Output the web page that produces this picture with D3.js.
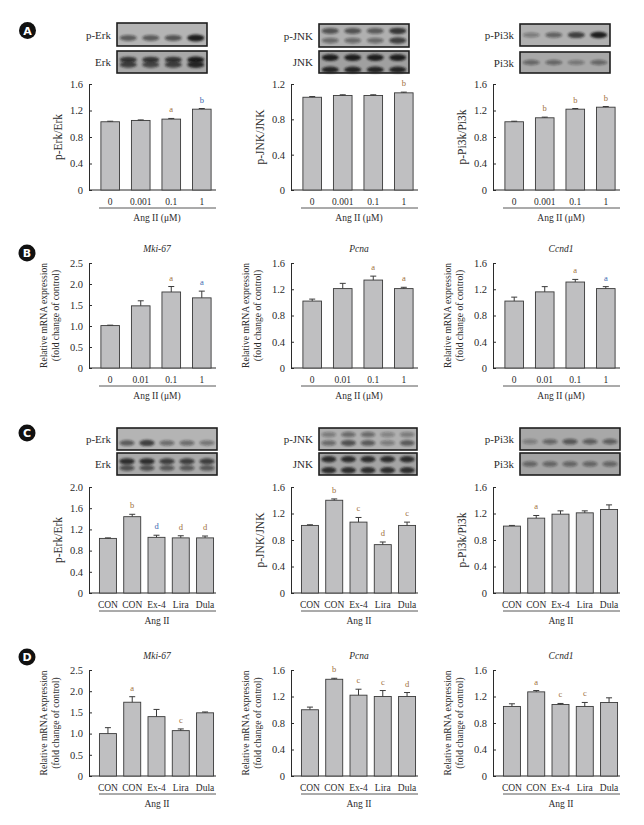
<!DOCTYPE html>
<html><head><meta charset="utf-8">
<script src="https://cdn.jsdelivr.net/npm/d3@7"></script>
<style>body{margin:0;background:#fff} svg{display:block}</style>
</head><body>
<svg id="c" width="644" height="825"></svg>
<script>
// ---------- data ----------
const doseA = ["0","0.001","0.1","1"];
const doseB = ["0","0.01","0.1","1"];
const treat = ["CON","CON","Ex-4","Lira","Dula"];

const aErkVal = [1.03,1.05,1.07,1.22],  aErkErr = [0.008,0.008,0.01,0.01],  aErkSig = ["","","a","b"];
const aJnkVal = [1.05,1.07,1.07,1.10],  aJnkErr = [0.008,0.008,0.008,0.008], aJnkSig = ["","","","b"];
const aPiVal  = [1.03,1.09,1.22,1.25],  aPiErr  = [0.008,0.01,0.01,0.01],   aPiSig  = ["","b","b","b"];

const bMkiVal = [1.01,1.48,1.81,1.67],  bMkiErr = [0.01,0.12,0.13,0.16],   bMkiSig = ["","","a","a"];
const bPcnaVal= [1.02,1.21,1.34,1.21],  bPcnaErr= [0.03,0.08,0.06,0.02],   bPcnaSig= ["","","a","a"];
const bCcndVal= [1.02,1.16,1.31,1.21],  bCcndErr= [0.06,0.08,0.04,0.03],   bCcndSig= ["","","a","a"];

const cErkVal = [1.03,1.44,1.05,1.04,1.04], cErkErr = [0.01,0.045,0.04,0.04,0.035], cErkSig = ["","b","d","d","d"];
const cJnkVal = [1.02,1.40,1.07,0.73,1.02], cJnkErr = [0.01,0.02,0.07,0.04,0.05],   cJnkSig = ["","b","c","d","c"];
const cPiVal  = [1.01,1.13,1.19,1.21,1.26], cPiErr  = [0.01,0.04,0.05,0.03,0.07],   cPiSig  = ["","a","","",""];

const dMkiVal = [1.0,1.74,1.40,1.07,1.49],  dMkiErr = [0.14,0.13,0.17,0.04,0.02],   dMkiSig = ["","a","","c",""];
const dPcnaVal= [1.0,1.46,1.22,1.20,1.20],  dPcnaErr= [0.04,0.015,0.09,0.09,0.06],  dPcnaSig= ["","b","c","c","d"];
const dCcndVal= [1.05,1.27,1.08,1.05,1.11], dCcndErr= [0.04,0.02,0.015,0.06,0.07],  dCcndSig= ["","a","c","c",""];

const ticks16 = [0,0.4,0.8,1.2,1.6];
const ticks12 = [0,0.4,0.8,1.2];
const ticks20 = [0,0.4,0.8,1.2,1.6,2.0];
const ticks25 = [0,0.5,1.0,1.5,2.0,2.5];

// blot band intensities (lane-wise)
const blotA1top = [[0.55,0.55,0.6,0.95]],           blotA1bot = [[0.8,0.8,0.8,0.95],[0.75,0.7,0.75,0.9]];
const blotA2top = [[0.6,0.6,0.55,0.8],[0.45,0.45,0.45,0.75]], blotA2bot = [[0.95,0.95,0.95,0.95],[0.9,0.9,0.9,0.9]];
const blotA3top = [[0.35,0.5,0.75,0.95]],           blotA3bot = [[0.45,0.45,0.35,0.45]];
const blotC1top = [[0.55,0.75,0.45,0.45,0.4]],      blotC1bot = [[0.85,0.85,0.75,0.75,0.75],[0.6,0.6,0.55,0.55,0.55]];
const blotC2top = [[0.35,0.45,0.45,0.3,0.35],[0.45,0.65,0.55,0.35,0.55]], blotC2bot = [[0.85,0.85,0.85,0.85,0.85],[0.85,0.85,0.85,0.85,0.85]];
const blotC3top = [[0.3,0.45,0.55,0.5,0.5]],        blotC3bot = [[0.45,0.45,0.45,0.45,0.45]];

// ---------- drawing ----------
const svg = d3.select("#c");
const serif = "'Liberation Serif','Times New Roman',serif";
const ink = "#2b2b2b";
const cols = [89, 291, 493];
const sigCol = {a:"#9a6a3a", b:"#9a6a3a", c:"#9a6a3a", d:"#9a6a3a"};

const defs = svg.append("defs");
defs.append("filter").attr("id","blur").attr("x","-50%").attr("y","-100%").attr("width","200%").attr("height","300%")
  .append("feGaussianBlur").attr("stdDeviation",1.1);

function panel(o){
  const g = svg.append("g");
  const n = o.vals.length;
  const x = d3.scaleBand().domain(d3.range(n))
    .range(n===4?[o.ax,o.ax+134]:[o.ax,o.ax+135])
    .paddingInner(n===4?0.39:0.3).paddingOuter(n===4?0.39:0.43);
  const y = d3.scaleLinear().domain([0,o.max]).range([o.y0,o.y1]);
  const ya = g.append("g").attr("transform",`translate(${o.ax},0)`)
    .call(d3.axisLeft(y).tickValues(o.ticks).tickFormat(d=>d===0?"0":d3.format(".1f")(d))
      .tickSizeInner(-3).tickSizeOuter(0).tickPadding(6));
  ya.select(".domain").attr("stroke",ink);
  ya.selectAll(".tick line").attr("stroke",ink);
  ya.selectAll("text").attr("font-family",serif).attr("font-size",10.5).attr("fill",ink);
  // baseline
  g.append("line").attr("x1",o.ax).attr("x2",o.ax+127).attr("y1",o.y0).attr("y2",o.y0).attr("stroke",ink);
  // bars
  g.selectAll("rect.bar").data(o.vals).join("rect").attr("class","bar")
    .attr("x",(d,i)=>x(i)).attr("width",x.bandwidth())
    .attr("y",d=>y(d)).attr("height",d=>o.y0-y(d))
    .attr("fill","#bfbfc1").attr("stroke","#3a3a3a").attr("stroke-width",0.9);
  // error bars
  o.errs.forEach((e,i)=>{
    const cx = x(i)+x.bandwidth()/2, yt = y(o.vals[i]+e);
    g.append("line").attr("x1",cx).attr("x2",cx).attr("y1",y(o.vals[i])).attr("y2",yt).attr("stroke","#3a3a3a");
    g.append("line").attr("x1",cx-3).attr("x2",cx+3).attr("y1",yt).attr("y2",yt).attr("stroke","#3a3a3a");
    if(o.sigs[i]) g.append("text").attr("x",cx).attr("y",yt-6).attr("text-anchor","middle")
      .attr("font-family",serif).attr("font-size",8.5).attr("fill",(o.sigc&&o.sigc[i])||"#7a5a3a").text(o.sigs[i]);
  });
  // x labels
  g.selectAll("text.xl").data(o.cats).join("text").attr("class","xl")
    .attr("x",(d,i)=>x(i)+x.bandwidth()/2).attr("y",o.y0+14.5).attr("text-anchor","middle")
    .attr("font-family",serif).attr("font-size",9.5).attr("fill",ink).text(d=>d);
  g.append("line").attr("x1",o.ax+10).attr("x2",o.ax+127).attr("y1",o.y0+18).attr("y2",o.y0+18).attr("stroke",ink).attr("stroke-width",0.8);
  g.append("text").attr("x",o.ax+68).attr("y",o.y0+30.5).attr("text-anchor","middle")
    .attr("font-family",serif).attr("font-size",9.5).attr("fill",ink).text(o.xt);
  // y label
  const mid = (o.y0+o.y1)/2;
  if(o.yl.length===1){
    g.append("text").attr("transform",`translate(${o.ax-31},${mid}) rotate(-90)`).attr("text-anchor","middle")
      .attr("dominant-baseline","central").attr("font-family",serif).attr("font-size",11.5).attr("fill",ink).text(o.yl[0]);
  } else {
    o.yl.forEach((t,k)=>g.append("text").attr("transform",`translate(${o.ax-46+k*12},${mid}) rotate(-90)`).attr("text-anchor","middle")
      .attr("dominant-baseline","central").attr("font-family",serif).attr("font-size",9.6).attr("fill",ink).text(t));
  }
  if(o.title) g.append("text").attr("x",o.ax+68).attr("y",o.y1-14).attr("text-anchor","middle")
    .attr("dominant-baseline","central").attr("font-family",serif).attr("font-style","italic").attr("font-size",9.5).attr("fill",ink).text(o.title);
}

function blot(bx,by,w,h,bands,pos,label,bg){
  const n = bands[0].length;
  const g = svg.append("g");
  g.append("rect").attr("x",bx).attr("y",by).attr("width",w).attr("height",h).attr("fill",bg);
  const lw = w/n;
  bands.forEach((row,k)=>{
    row.forEach((v,i)=>{
      g.append("ellipse").attr("cx",bx+lw*(i+0.5)).attr("cy",by+h*pos[k]).attr("rx",lw*0.38).attr("ry",h*0.1+v*1.2)
        .attr("fill",`rgba(25,25,25,${v})`).attr("filter","url(#blur)");
    });
  });
  g.append("rect").attr("x",bx).attr("y",by).attr("width",w).attr("height",h).attr("fill","none").attr("stroke","#1e1e1e").attr("stroke-width",1.6);
  g.append("text").attr("x",bx-6).attr("y",by+h/2).attr("text-anchor","end").attr("dominant-baseline","central")
    .attr("font-family",serif).attr("font-size",11).attr("fill",ink).text(label);
}

function badge(cx,cy,t){
  svg.append("circle").attr("cx",cx).attr("cy",cy).attr("r",8.5).attr("fill","#111");
  svg.append("text").attr("x",cx).attr("y",cy+0.5).attr("text-anchor","middle").attr("dominant-baseline","central")
    .attr("font-family","'DejaVu Sans',sans-serif").attr("font-weight","bold").attr("font-size",11).attr("fill","#fff").text(t);
}

const brown="#a0703c", blue="#3a6ab0";
// Row A
panel({ax:cols[0],y0:190,y1:84,max:1.6,ticks:ticks16,cats:doseA,vals:aErkVal,errs:aErkErr,sigs:aErkSig,sigc:["","",brown,blue],yl:["p-Erk/Erk"],xt:"Ang II (μM)"});
panel({ax:cols[1],y0:190,y1:84,max:1.2,ticks:ticks12,cats:doseA,vals:aJnkVal,errs:aJnkErr,sigs:aJnkSig,sigc:["","","",brown],yl:["p-JNK/JNK"],xt:"Ang II (μM)"});
panel({ax:cols[2],y0:190,y1:84,max:1.6,ticks:ticks16,cats:doseA,vals:aPiVal,errs:aPiErr,sigs:aPiSig,sigc:["",brown,brown,brown],yl:["p-Pi3k/Pi3k"],xt:"Ang II (μM)"});
// Row B
const rel = ["Relative mRNA expression","(fold change of control)"];
panel({ax:cols[0],y0:368,y1:263,max:2.5,ticks:ticks25,cats:doseB,vals:bMkiVal,errs:bMkiErr,sigs:bMkiSig,sigc:["","",brown,blue],yl:rel,xt:"Ang II (μM)",title:"Mki-67"});
panel({ax:cols[1],y0:368,y1:263,max:1.6,ticks:ticks16,cats:doseB,vals:bPcnaVal,errs:bPcnaErr,sigs:bPcnaSig,sigc:["","",brown,brown],yl:rel,xt:"Ang II (μM)",title:"Pcna"});
panel({ax:cols[2],y0:368,y1:263,max:1.6,ticks:ticks16,cats:doseB,vals:bCcndVal,errs:bCcndErr,sigs:bCcndSig,sigc:["","",brown,blue],yl:rel,xt:"Ang II (μM)",title:"Ccnd1"});
// Row C
panel({ax:cols[0],y0:593,y1:487,max:2.0,ticks:ticks20,cats:treat,vals:cErkVal,errs:cErkErr,sigs:cErkSig,sigc:["",brown,blue,brown,brown],yl:["p-Erk/Erk"],xt:"Ang II"});
panel({ax:cols[1],y0:593,y1:487,max:1.6,ticks:ticks16,cats:treat,vals:cJnkVal,errs:cJnkErr,sigs:cJnkSig,sigc:["",brown,brown,brown,brown],yl:["p-JNK/JNK"],xt:"Ang II"});
panel({ax:cols[2],y0:593,y1:487,max:1.6,ticks:ticks16,cats:treat,vals:cPiVal,errs:cPiErr,sigs:cPiSig,sigc:["",brown,"","",""],yl:["p-Pi3k/Pi3k"],xt:"Ang II"});
// Row D
panel({ax:cols[0],y0:776,y1:670,max:2.5,ticks:ticks25,cats:treat,vals:dMkiVal,errs:dMkiErr,sigs:dMkiSig,sigc:["",brown,"",brown,""],yl:rel,xt:"Ang II",title:"Mki-67"});
panel({ax:cols[1],y0:776,y1:670,max:1.6,ticks:ticks16,cats:treat,vals:dPcnaVal,errs:dPcnaErr,sigs:dPcnaSig,sigc:["",brown,brown,brown,brown],yl:rel,xt:"Ang II",title:"Pcna"});
panel({ax:cols[2],y0:776,y1:670,max:1.6,ticks:ticks16,cats:treat,vals:dCcndVal,errs:dCcndErr,sigs:dCcndSig,sigc:["",brown,brown,brown,""],yl:rel,xt:"Ang II",title:"Ccnd1"});

// blots
blot(117,23,90,23,blotA1top,[0.65],"p-Erk","#b4b4b4");
blot(117,51,90,22,blotA1bot,[0.4,0.62],"Erk","#a8a8a8");
blot(319,24,90,23,blotA2top,[0.3,0.72],"p-JNK","#b0b0b0");
blot(319,51,90,22,blotA2bot,[0.3,0.85],"JNK","#a0a0a0");
blot(520,24,90,22,blotA3top,[0.5],"p-Pi3k","#b0b0b0");
blot(520,52,90,21,blotA3bot,[0.5],"Pi3k","#a8a8a8");
blot(117,428,100,22,blotC1top,[0.68],"p-Erk","#b4b4b4");
blot(117,453,100,22,blotC1bot,[0.38,0.68],"Erk","#aaaaaa");
blot(319,428,98,22,blotC2top,[0.3,0.68],"p-JNK","#b0b0b0");
blot(319,453,98,22,blotC2bot,[0.28,0.78],"JNK","#a4a4a4");
blot(520,428,100,22,blotC3top,[0.62],"p-Pi3k","#a8a8a8");
blot(520,453,100,22,blotC3bot,[0.5],"Pi3k","#a4a4a4");

badge(27.5,30.5,"A");
badge(27,253,"B");
badge(27,433,"C");
badge(27,657,"D");
</script>
</body></html>
